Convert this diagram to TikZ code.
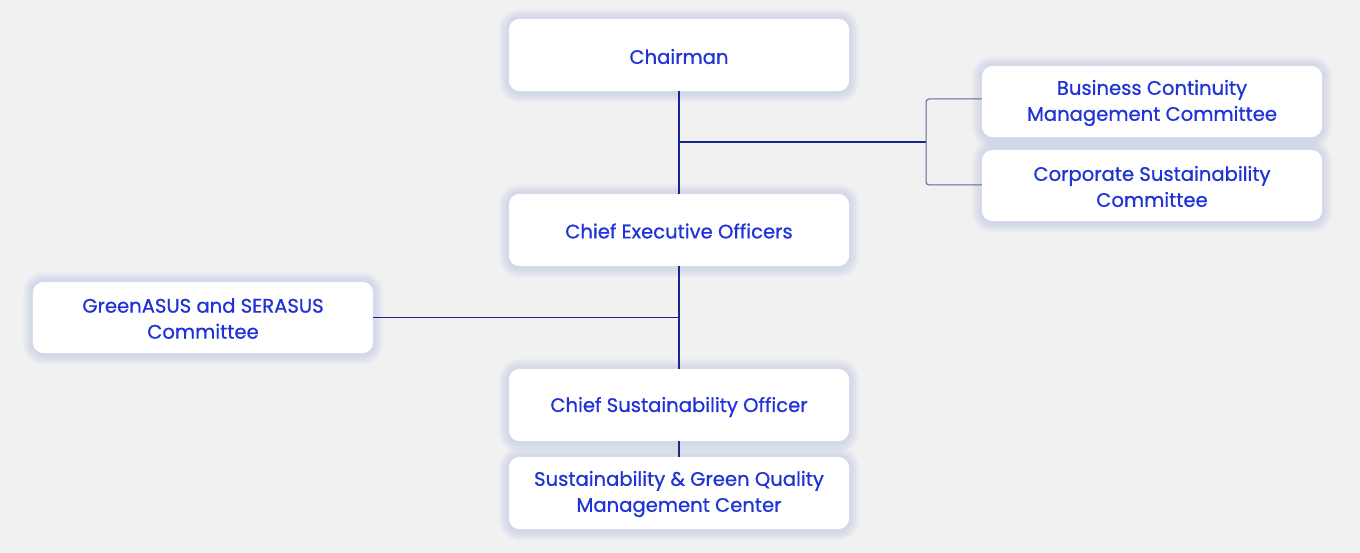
\documentclass[tikz,border=0pt]{standalone}
\usepackage{fontspec}
\setmainfont{Poppins}[FakeBold=0.8]
\definecolor{bg}{HTML}{F1F1F2}
\definecolor{txt}{HTML}{1F33D6}
\definecolor{navy}{HTML}{18288A}
\definecolor{brk}{HTML}{5E6494}
\definecolor{shd}{HTML}{B3BCE2}
\tikzset{
  box/.style={draw=none, minimum width=340pt, minimum height=72pt, inner sep=0pt},
  lbl/.style={align=center, text=txt, font=\fontsize{19.6}{26}\selectfont, inner sep=0pt},
  conn/.style={draw=navy, line width=1.1pt},
  bconn/.style={draw=brk, line width=1pt, rounded corners=3pt},
}
\newcommand{\softshadow}[1]{%
  \foreach \k in {1,...,10}{
    \fill[shd, opacity=0.055, rounded corners=11pt+\k pt]
      ([xshift=-\k pt, yshift=\k pt]#1.north west) rectangle ([xshift=\k pt, yshift=-\k pt - 1.5pt]#1.south east);
  }}
\newcommand{\whitebox}[1]{\fill[white, rounded corners=11pt] (#1.north west) rectangle (#1.south east);}
\begin{document}
\begin{tikzpicture}[x=1pt,y=-1pt]
\fill[bg] (0,0) rectangle (1360,553);
\useasboundingbox (0,0) rectangle (1360,553);
\path
  node[box] (ch) at (679,55) {}
  node[box] (ceo) at (679,230) {}
  node[box] (cso) at (679,405) {}
  node[box] (sg) at (679,493) {}
  node[box, minimum height=71pt] (bc) at (1152,101.5) {}
  node[box, minimum height=71pt] (cs) at (1152,185.5) {}
  node[box, minimum height=71pt] (ga) at (203,317.5) {};
\softshadow{ch}\softshadow{ceo}\softshadow{cso}\softshadow{sg}\softshadow{bc}\softshadow{cs}\softshadow{ga}
\whitebox{ch}\whitebox{ceo}\whitebox{cso}\whitebox{sg}\whitebox{bc}\whitebox{cs}\whitebox{ga}
\coordinate (j1) at (679,142);
\coordinate (br) at (926,142);
\coordinate (j2) at (679,317.5);
\draw[conn] (ch.south) -- (ceo.north);
\draw[conn] (ceo.south) -- (cso.north);
\draw[conn] (cso.south) -- (sg.north);
\draw[conn] (j1) -- (br);
\draw[conn] (ga.east) -- (j2);
\draw[bconn] (bc.west |- 0,99) -| (br) |- (cs.west |- 0,185);
\node[lbl] (tch) at ([yshift=-1.5pt]ch) {Chairman};
\node[lbl] (tceo) at ([yshift=-1pt]ceo) {Chief Executive Officers};
\node[lbl] (tcso) at ([yshift=-2pt]cso) {Chief Sustainability Officer};
\node[lbl] (tsg) at ([yshift=-1pt]sg) {Sustainability \& Green Quality\\Management Center};
\node[lbl] (tbc) at ([yshift=-1.5pt]bc) {Business Continuity\\Management Committee};
\node[lbl] (tcs) at ([yshift=-1pt]cs) {Corporate Sustainability\\Committee};
\node[lbl] (tga) at ([yshift=-1pt]ga) {GreenASUS and SERASUS\\Committee};
\end{tikzpicture}
\end{document}
